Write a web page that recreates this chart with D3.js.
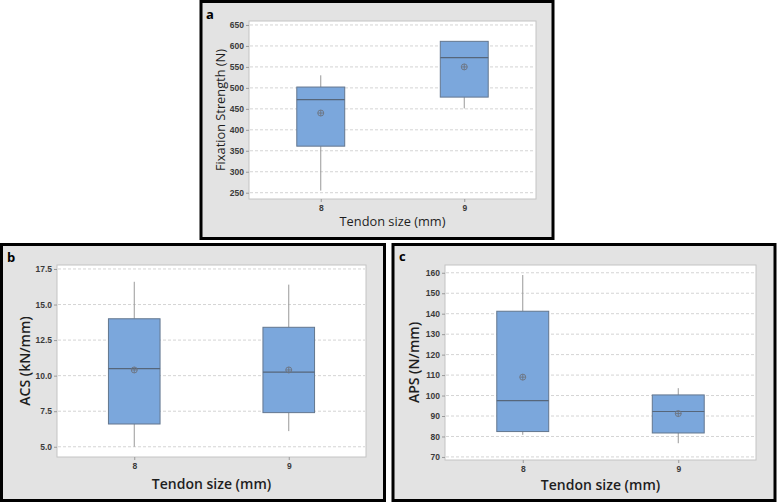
<!DOCTYPE html>
<html>
<head>
<meta charset="utf-8">
<script src="https://cdn.jsdelivr.net/npm/d3@7"></script>
<style>
	body { margin: 0; background: #fff; }
	svg { display: block; font-family: "Open Sans", "Noto Sans", sans-serif; }
</style>
</head>
<body>
<div id="viz"></div>
<script>
var tendonSizes = ["8", "9"];

// Box stats per tendon size (min, Q1, median, Q3, max, mean)
var fixationStrength = [
	{min: 255, q1: 361, median: 472, q3: 502, max: 530, mean: 440},
	{min: 451, q1: 478, median: 572, q3: 611, max: 611, mean: 550}
];
var acsValues = [
	{min: 5.0, q1: 6.6, median: 10.5, q3: 14.0, max: 16.6, mean: 10.4},
	{min: 6.1, q1: 7.4, median: 10.25, q3: 13.4, max: 16.4, mean: 10.4}
];
var apsValues = [
	{min: 80.8, q1: 82.4, median: 97.5, q3: 141.2, max: 158.9, mean: 109},
	{min: 76.7, q1: 81.7, median: 92.2, q3: 100.3, max: 103.6, mean: 91.2}
];

var fixationTicks = [250, 300, 350, 400, 450, 500, 550, 600, 650];
var acsTicks = [5.0, 7.5, 10.0, 12.5, 15.0, 17.5];
var apsTicks = [70, 80, 90, 100, 110, 120, 130, 140, 150, 160];

var width = 777,
	height = 504;

var svg = d3.select("#viz")
	.append("svg")
	.attr("width", width)
	.attr("height", height);

var panels = [
	{
		letter: "a", letterPos: [206, 19],
		frame: [201, 1.5, 352, 237],
		plot: [249, 21, 536, 199],
		domain: [235, 659.5],
		ticks: fixationTicks, format: d3.format("d"),
		data: fixationStrength,
		yTitle: "Fixation Strength (N)", yTitleX: 222,
		xTitleY: 226, titleSize: 12.8, titleWeight: 500
	},
	{
		letter: "b", letterPos: [7, 262],
		frame: [1.5, 244.5, 383, 256],
		plot: [57, 265, 366, 457],
		domain: [4.28, 17.78],
		ticks: acsTicks, format: d3.format(".1f"),
		data: acsValues,
		yTitle: "ACS (kN/mm)", yTitleX: 26,
		xTitleY: 489, titleSize: 14, titleWeight: 600
	},
	{
		letter: "c", letterPos: [399, 261],
		frame: [393, 244.5, 382, 256],
		plot: [445, 265, 756, 460],
		domain: [68.5, 163.8],
		ticks: apsTicks, format: d3.format("d"),
		data: apsValues,
		yTitle: "APS (N/mm)", yTitleX: 415,
		xTitleY: 490, titleSize: 14, titleWeight: 600
	}
];

var drawPanel = (p) => {
	var g = svg.append("g");
	var left = p.plot[0], top = p.plot[1], right = p.plot[2], bottom = p.plot[3];

	var x = d3.scalePoint().domain(tendonSizes).range([left, right]).padding(0.5),
		y = d3.scaleLinear().domain(p.domain).range([bottom, top]),
		boxWidth = (right - left) * 0.167;

	// Panel frame
	g.append("rect")
		.attr("x", p.frame[0])
		.attr("y", p.frame[1])
		.attr("width", p.frame[2])
		.attr("height", p.frame[3])
		.style("fill", "#e3e3e3")
		.style("stroke", "#000")
		.style("stroke-width", 3);

	// Plot area
	g.append("rect")
		.attr("x", left)
		.attr("y", top)
		.attr("width", right - left)
		.attr("height", bottom - top)
		.style("fill", "#fff")
		.style("stroke", "#c4c4c4")
		.style("stroke-width", 1);

	// Gridlines
	g.selectAll(".grid")
		.data(p.ticks)
		.enter()
		.append("line")
		.attr("class", "grid")
		.attr("x1", left + 1)
		.attr("x2", right - 1)
		.attr("y1", d => y(d))
		.attr("y2", d => y(d))
		.style("stroke", "#d4d4d4")
		.style("stroke-width", 1)
		.style("stroke-dasharray", "3,2");

	// Axes
	var yAxis = g.append("g")
		.attr("transform", `translate(${left},0)`)
		.call(d3.axisLeft(y).tickValues(p.ticks).tickFormat(p.format).tickSize(3).tickPadding(2));
	var xAxis = g.append("g")
		.attr("transform", `translate(0,${bottom})`)
		.call(d3.axisBottom(x).tickSize(3).tickPadding(3));
	[yAxis, xAxis].forEach(ax => {
		ax.select(".domain").remove();
		ax.selectAll("line").style("stroke", "#9a9a9a");
		ax.selectAll("text")
			.style("font-size", "8.5px")
			.style("font-weight", 600)
			.style("fill", "#3a3a3a");
	});

	// Whiskers
	g.selectAll(".whisker")
		.data(p.data)
		.enter()
		.append("path")
		.attr("class", "whisker")
		.attr("d", (d, i) => {
			var cx = x(tendonSizes[i]), path = d3.path();
			path.moveTo(cx, y(d.q3));
			path.lineTo(cx, y(d.max));
			path.moveTo(cx, y(d.q1));
			path.lineTo(cx, y(d.min));
			return path.toString();
		})
		.style("stroke", "#999")
		.style("stroke-width", 1);

	// Boxes
	g.selectAll(".box")
		.data(p.data)
		.enter()
		.append("rect")
		.attr("class", "box")
		.attr("x", (d, i) => x(tendonSizes[i]) - boxWidth / 2)
		.attr("y", d => y(d.q3))
		.attr("width", boxWidth)
		.attr("height", d => y(d.q1) - y(d.q3))
		.style("fill", "#7ba7dc")
		.style("stroke", "#63768e")
		.style("stroke-width", 1);

	// Medians
	g.selectAll(".median")
		.data(p.data)
		.enter()
		.append("line")
		.attr("class", "median")
		.attr("x1", (d, i) => x(tendonSizes[i]) - boxWidth / 2)
		.attr("x2", (d, i) => x(tendonSizes[i]) + boxWidth / 2)
		.attr("y1", d => y(d.median))
		.attr("y2", d => y(d.median))
		.style("stroke", "#56667a")
		.style("stroke-width", 1.2);

	// Mean symbols (circle with cross)
	var means = g.selectAll(".mean")
		.data(p.data)
		.enter()
		.append("g")
		.attr("class", "mean")
		.attr("transform", (d, i) => `translate(${x(tendonSizes[i])},${y(d.mean)})`);
	means.append("circle")
		.attr("r", 3)
		.style("fill", "none")
		.style("stroke", "#6d7480")
		.style("stroke-width", 0.9);
	means.append("path")
		.attr("d", "M-3,0H3M0,-3V3")
		.style("stroke", "#6d7480")
		.style("stroke-width", 0.9);

	// Axis titles
	g.append("text")
		.attr("transform", `translate(${p.yTitleX},${(top + bottom) / 2}) rotate(-90)`)
		.attr("text-anchor", "middle")
		.attr("dominant-baseline", "middle")
		.style("font-size", p.titleSize + "px")
		.style("font-weight", p.titleWeight)
		.style("fill", "#1e1e1e")
		.text(p.yTitle);
	g.append("text")
		.attr("x", (left + right) / 2)
		.attr("y", p.xTitleY)
		.attr("text-anchor", "middle")
		.style("font-size", p.titleSize + "px")
		.style("font-weight", p.titleWeight)
		.style("fill", "#1e1e1e")
		.text("Tendon size (mm)");

	// Panel letter
	g.append("text")
		.attr("x", p.letterPos[0])
		.attr("y", p.letterPos[1])
		.style("font-size", "13px")
		.style("font-weight", 700)
		.style("fill", "#000")
		.text(p.letter);
};

panels.forEach(drawPanel);
</script>
</body>
</html>
